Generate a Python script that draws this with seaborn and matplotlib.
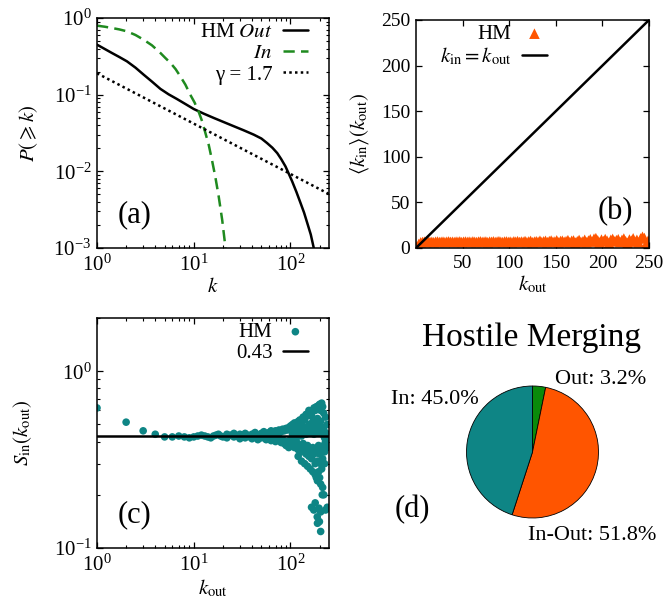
import numpy as np
import pandas as pd
import matplotlib
matplotlib.use("Agg")
import matplotlib.pyplot as plt
import seaborn as sns

# ---------------- data ----------------
# (a) cumulative degree distributions
k_out_a = [1, 1.2, 1.43, 1.7, 2.04, 2.5, 3.04, 3.7, 4.52, 5.5, 6.7, 8.2, 10, 12.7, 16.1,
           20.5, 26, 33, 41.7, 50, 57.2, 65, 72.9, 80, 88.7, 96, 104, 115, 127, 138, 149,
           162, 174]
p_out_a = [0.449, 0.395, 0.349, 0.31, 0.272, 0.225, 0.182, 0.148, 0.119, 0.101, 0.0878,
           0.0755, 0.065, 0.0565, 0.0497, 0.0438, 0.0387, 0.0342, 0.0301, 0.0268, 0.0234,
           0.0203, 0.0173, 0.0145, 0.0116, 0.0093, 0.0074, 0.0054, 0.00386, 0.0029,
           0.00212, 0.0015, 0.001]
k_in_a = [1, 1.2, 1.43, 1.7, 2.04, 2.5, 3.04, 3.7, 4.52, 5.1, 5.75, 6.5, 7.25, 8.2, 9.2,
          10.2, 11.2, 12.2, 13.2, 14.3, 15.4, 16.7, 18.1, 19.7, 21.3]
p_in_a = [0.794, 0.77, 0.74, 0.71, 0.67, 0.60, 0.52, 0.44, 0.35, 0.30, 0.259, 0.215, 0.174,
          0.135, 0.1, 0.079, 0.0606, 0.045, 0.0316, 0.022, 0.0142, 0.0085, 0.00472,
          0.0023, 0.001]
k_gamma = [1, 250]
p_gamma = [0.19, 0.00506]

# (b) mean in-degree vs out-degree
kout_b = list(range(1, 251, 2))
kin_b = [1.5, 4.5, 6.2, 6.6, 6.9, 6.5, 7.0, 6.7, 6.8, 6.4,
         6.9, 7.1, 6.6, 6.8, 7.0, 6.5, 6.9, 7.2, 6.7, 6.9,
         6.6, 7.0, 6.8, 7.2, 6.5, 6.9, 7.1, 6.7, 7.0, 6.6,
         7.2, 6.8, 6.5, 7.0, 7.3, 6.7, 6.9, 7.1, 6.4, 7.0,
         6.8, 7.3, 6.6, 7.0, 7.4, 6.8, 6.5, 7.1, 7.2, 6.7,
         7.0, 6.4, 7.3, 6.9, 7.5, 6.6, 7.1, 6.8, 7.6, 6.5,
         7.2, 7.8, 6.3, 7.0, 7.4, 6.8, 8.0, 6.6, 7.3, 7.9,
         6.4, 7.6, 8.2, 6.9, 7.1, 8.4, 6.2, 7.7, 8.0, 6.8,
         7.5, 8.6, 6.4, 7.9, 8.3, 6.0, 7.4, 8.8, 6.7, 7.2,
         9.0, 6.3, 8.1, 9.5, 7.0, 10.2, 10.8, 8.4, 6.1, 9.2,
         7.6, 9.8, 8.0, 5.8, 9.0, 10.0, 7.2, 8.6, 9.6, 6.5,
         8.9, 10.4, 7.4, 5.5, 9.3, 8.1, 10.6, 7.0, 9.0, 6.2,
         10.5, 12.3, 11.0, 4.5, 8.0]
diag_b = [0, 250]

# (c) in-strength ratio
kout_c = [1, 2, 3, 4, 5, 6, 7, 8, 9, 10, 11, 12, 13, 14, 15, 16, 17, 18, 19, 20,
          22, 22, 24, 26, 26, 28, 30, 30, 32, 34, 34, 36, 38, 40, 40, 43, 43, 46, 46,
          50, 50, 53, 53, 56, 56, 60, 60, 63, 63, 66, 66, 70, 70, 73, 73, 76, 76,
          80, 80, 83, 83, 86, 86, 90, 90, 93, 93, 96, 96, 100, 100,
          105, 110, 115, 120, 125, 130, 135, 140, 145, 150, 155, 160, 165, 170, 175,
          180, 185, 190, 195, 200, 205, 210, 215, 220, 230, 240,
          105, 110, 115, 120, 125, 130, 135, 140, 145, 150, 155, 160, 165, 170, 175,
          180, 185, 190, 195, 200, 205, 210, 215, 220, 225, 230, 240, 245,
          105, 110, 115, 120, 125, 130, 135, 140, 145, 150, 155, 160, 165, 170, 175,
          180, 185, 190, 195, 200, 205, 210, 215, 220, 225, 230, 240, 245,
          120, 130, 140, 150, 160, 170, 180, 185, 190, 195, 200, 205, 210, 215, 225,
          165, 174, 180, 189, 190, 197, 199, 205, 205, 213, 221, 230, 240, 250]
s_c = [0.62, 0.515, 0.46, 0.44, 0.425, 0.425, 0.43, 0.425, 0.42, 0.425, 0.43, 0.435,
       0.43, 0.425, 0.42, 0.43, 0.435, 0.44, 0.43, 0.425,
       0.44, 0.42, 0.435, 0.425, 0.445, 0.43, 0.44, 0.415, 0.43, 0.445, 0.42, 0.435,
       0.425, 0.44, 0.415, 0.45, 0.425, 0.435, 0.41,
       0.445, 0.42, 0.455, 0.43, 0.44, 0.41, 0.45, 0.42, 0.46, 0.405, 0.445, 0.425,
       0.46, 0.40, 0.45, 0.415, 0.465, 0.42,
       0.455, 0.395, 0.47, 0.41, 0.46, 0.39, 0.475, 0.38, 0.465, 0.40, 0.48, 0.37,
       0.49, 0.41,
       0.50, 0.51, 0.49, 0.52, 0.53, 0.50, 0.55, 0.53, 0.57, 0.56, 0.60, 0.58, 0.56,
       0.60, 0.62, 0.60, 0.63, 0.62, 0.64, 0.65, 0.60, 0.66, 0.63, 0.58, 0.55, 0.50,
       0.44, 0.46, 0.42, 0.45, 0.47, 0.43, 0.46, 0.48, 0.44, 0.47, 0.50, 0.45, 0.48,
       0.52, 0.44, 0.50, 0.47, 0.54, 0.45, 0.49, 0.52, 0.46, 0.44, 0.48, 0.42, 0.45,
       0.41, 0.43,
       0.39, 0.37, 0.40, 0.36, 0.38, 0.35, 0.39, 0.36, 0.34, 0.38, 0.33, 0.36, 0.32,
       0.37, 0.34, 0.30, 0.35, 0.31, 0.38, 0.34, 0.30, 0.36, 0.32, 0.38, 0.35, 0.40,
       0.37, 0.39,
       0.33, 0.31, 0.30, 0.29, 0.28, 0.27, 0.26, 0.25, 0.24, 0.27, 0.25, 0.23, 0.28,
       0.22, 0.30,
       0.17, 0.164, 0.18, 0.15, 0.138, 0.168, 0.141, 0.124, 0.16, 0.20, 0.20, 0.164,
       0.17, 0.168]
ref_c = 0.43

# (d) pie
pie_labels = ["Out", "In-Out", "In"]
pie_values = [3.2, 51.8, 45.0]

# ---------------- style ----------------
sns.set_theme(style="ticks")
plt.rcParams.update({
    "mathtext.fontset": "stix",
    "axes.linewidth": 1.1,
    "axes.edgecolor": "black",
    "xtick.direction": "in", "ytick.direction": "in",
    "xtick.top": True, "ytick.right": True,
    "xtick.major.size": 4.5, "ytick.major.size": 4.5,
    "xtick.minor.size": 2.3, "ytick.minor.size": 2.3,
    "xtick.major.width": 0.9, "ytick.major.width": 0.9,
    "xtick.minor.width": 0.8, "ytick.minor.width": 0.8,
    "xtick.major.pad": 5.0, "ytick.major.pad": 4.0,
    "xtick.color": "black", "ytick.color": "black",
    "xtick.labelsize": 15, "ytick.labelsize": 15,
    "axes.labelsize": 15,
    "text.color": "black", "axes.labelcolor": "black",
})
plt.rcParams["font.family"] = ["Liberation Serif", "DejaVu Serif"]

ORANGE = "#ff5500"
TEAL = "#0e8585"
GREEN_L = "#1f8a1f"
GREEN_P = "#0a8a0a"

W, H = 668, 603
fig = plt.figure(figsize=(W / 100, H / 100), dpi=100)


def ax_px(l, t, r, b):
    return fig.add_axes([l / W, 1 - b / H, (r - l) / W, (b - t) / H])


def leg(ax, x, y):
    lg = ax.legend(loc="upper right", bbox_to_anchor=(x, y), frameon=False,
                   markerfirst=False, fontsize=15, borderaxespad=0, borderpad=0,
                   labelspacing=0.08, handlelength=1.2, handletextpad=0.5)
    return lg

# ---- (a)
axa = ax_px(97, 18, 329, 248)
axa.set_xscale("log"); axa.set_yscale("log")
sns.lineplot(x=k_out_a, y=p_out_a, ax=axa, color="black", lw=1.8, label=r"HM $\mathit{Out}$")
sns.lineplot(x=k_in_a, y=p_in_a, ax=axa, color=GREEN_L, lw=1.8, label=r"$\mathit{In}$")
axa.lines[-1].set_dashes((4.5, 2.5))
sns.lineplot(x=k_gamma, y=p_gamma, ax=axa, color="black", lw=1.8, label="γ = 1.7")
axa.lines[-1].set_dashes((1.0, 1.3))
axa.set_xlim(1, 250); axa.set_ylim(1e-3, 1)
axa.set_xlabel(r"$k$", labelpad=1)
axa.set_ylabel(r"$P(\geqslant k)$", labelpad=10)
leg(axa, 0.909, 0.98)
axa.text(0.09, 0.145, "(a)", transform=axa.transAxes, fontsize=22, ha="left", va="center")

# ---- (b)
axb = ax_px(416, 20, 649, 248)
sns.scatterplot(x=kout_b, y=kin_b, ax=axb, marker="^", s=58, color=ORANGE,
                edgecolor="none", linewidth=0, label="HM")
sns.lineplot(x=diag_b, y=diag_b, ax=axb, color="black", lw=1.8,
             label=r"$k_{\rm in} = k_{\rm out}$")
axb.set_xlim(0, 250); axb.set_ylim(0, 250)
axb.set_xticks([50, 100, 150, 200, 250])
axb.set_yticks([0, 50, 100, 150, 200, 250])
axb.tick_params(labelsize=14)
axb.set_xlabel(r"$k_{\rm out}$", labelpad=1)
axb.set_ylabel(r"$\langle k_{\rm in}\rangle(k_{\rm out})$", labelpad=7)
leg(axb, 0.562, 0.98)
axb.text(0.93, 0.16, "(b)", transform=axb.transAxes, fontsize=22, ha="right", va="center")

# ---- (c)
axc = ax_px(97, 318, 329, 548)
axc.set_xscale("log"); axc.set_yscale("log")
sns.scatterplot(x=kout_c, y=s_c, ax=axc, marker="o", s=30, color=TEAL,
                edgecolor="none", linewidth=0, label="HM")
sns.lineplot(x=[1, 250], y=[ref_c, ref_c], ax=axc, color="black", lw=1.8,
             label=f"{ref_c:.2f}")
axc.set_xlim(1, 250); axc.set_ylim(0.1, 2.0)
axc.set_xlabel(r"$k_{\rm out}$", labelpad=1)
axc.set_ylabel(r"$S_{\rm in}(k_{\rm out})$", labelpad=14)
leg(axc, 0.909, 0.98)
axc.text(0.09, 0.145, "(c)", transform=axc.transAxes, fontsize=22, ha="left", va="center")

# ---- (d)
axd = ax_px(466, 386, 599, 518)
axd.pie(pie_values, colors=[GREEN_P, ORANGE, TEAL], startangle=90, counterclock=False,
        wedgeprops=dict(edgecolor="black", linewidth=0.6))
axd.set_xlim(-1, 1); axd.set_ylim(-1, 1)
fig.text(532 / W, 1 - 338 / H, "Hostile Merging", fontsize=24, ha="center", va="center")
fig.text(601 / W, 1 - 380 / H, f"{pie_labels[0]}: {pie_values[0]:.1f}%", fontsize=16,
         ha="center", va="center")
fig.text(479 / W, 1 - 400 / H, f"{pie_labels[2]}: {pie_values[2]:.1f}%", fontsize=16,
         ha="right", va="center")
fig.text(592 / W, 1 - 535 / H, f"{pie_labels[1]}: {pie_values[1]:.1f}%", fontsize=16,
         ha="center", va="center")
fig.text(412 / W, 1 - 510 / H, "(d)", fontsize=22, ha="center", va="center")

fig.savefig("out.png", dpi=100)
